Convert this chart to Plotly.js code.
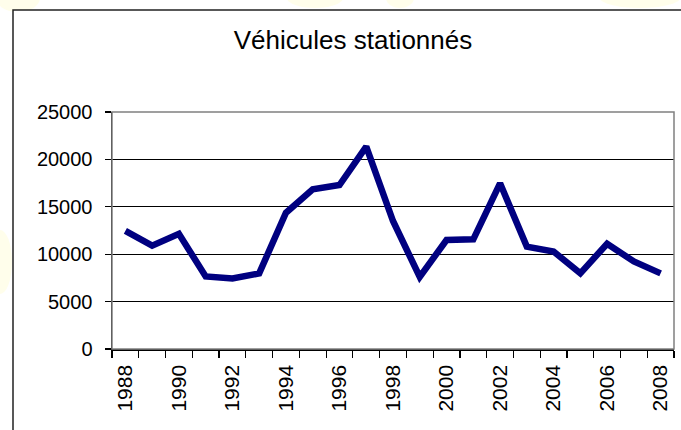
<!DOCTYPE html>
<html>
<head>
<meta charset="utf-8">
<script src="https://cdn.plot.ly/plotly-3.0.1.min.js"></script>
<style>html,body{margin:0;padding:0;background:#fff;}#chart{width:681px;height:430px;}</style>
</head>
<body>
<div id="chart"></div>
<script>
var years = [1988,1989,1990,1991,1992,1993,1994,1995,1996,1997,1998,1999,2000,2001,2002,2003,2004,2005,2006,2007,2008];
var vehicules = [12450,10900,12150,7650,7450,7980,14380,16850,17300,21350,13500,7600,11500,11570,17480,10800,10280,7980,11100,9230,7980];
var tickYears = [1988,1990,1992,1994,1996,1998,2000,2002,2004,2006,2008];
var tickLabels = tickYears.map(String);
var yTicks = [0,5000,10000,15000,20000,25000];
var yLabels = ['0','5000','10000','15000','20000','25000'];
var boundaries = [];
for (var i = 0; i <= years.length; i++) boundaries.push(years[0] - 0.5 + i);

var L = 112, R = 674, T = 112, B = 349, W = 681, H = 430;
function px(x){ return (x - L) / (R - L); }
function py(y){ return (B - y) / (B - T); }

var font = 'Liberation Sans, Arial, sans-serif';

var blobs = [
  [18, -2, 22, 14],
  [315, -2, 28, 10],
  [400, -2, 14, 10],
  [640, -2, 40, 10],
  [0, 262, 12, 32]
];
var shapes = blobs.map(function(b){
  return {type:'circle', xref:'paper', yref:'paper', layer:'below',
    x0:px(b[0]-b[2]), x1:px(b[0]+b[2]), y0:py(b[1]+b[3]), y1:py(b[1]-b[3]),
    fillcolor:'rgba(255,252,210,0.45)', line:{width:0}};
});
shapes.push({type:'rect', xref:'paper', yref:'paper', layer:'below',
  x0:px(13), x1:px(700), y0:py(445), y1:py(10),
  fillcolor:'rgba(255,255,255,1)', line:{color:'#222', width:1.5}});
shapes.push({type:'rect', xref:'paper', yref:'paper', layer:'above',
  x0:0, x1:1, y0:0, y1:1, line:{color:'#808080', width:1.5}});

var trace = {
  x: years, y: vehicules, type:'scatter', mode:'lines',
  line:{color:'#000080', width:6.5}, hoverinfo:'none'
};

var layout = {
  width:W, height:H,
  margin:{l:L, r:W-R, t:T, b:H-B, pad:0},
  paper_bgcolor:'#ffffff', plot_bgcolor:'rgba(0,0,0,0)',
  showlegend:false,
  title:{text:'Véhicules stationnés', font:{family:font, size:26, color:'#000'},
    x:353/W, xanchor:'center', xref:'container', y:1-40/H, yanchor:'middle', yref:'container'},
  xaxis:{range:[1987.5,2008.5], tickvals:tickYears, ticktext:tickLabels, tickangle:-90,
    ticks:'', showgrid:false, zeroline:false, showline:true, linecolor:'#000', linewidth:1.5,
    tickfont:{family:font, size:21, color:'#000'}, ticklabelstandoff:6,
    minor:{tickvals:boundaries, ticks:'outside', ticklen:7, tickcolor:'#000', tickwidth:1.2, showgrid:false}},
  yaxis:{range:[0,25000], tickvals:yTicks, ticktext:yLabels, ticks:'outside', ticklen:6, tickcolor:'#000', tickwidth:1.2,
    showgrid:true, gridcolor:'#000', gridwidth:1, zeroline:false, showline:true, linecolor:'#000', linewidth:1.5,
    tickfont:{family:font, size:20, color:'#000'}, ticklabelstandoff:8},
  shapes:shapes
};

Plotly.newPlot('chart', [trace], layout, {staticPlot:true, displayModeBar:false});
</script>
</body>
</html>
